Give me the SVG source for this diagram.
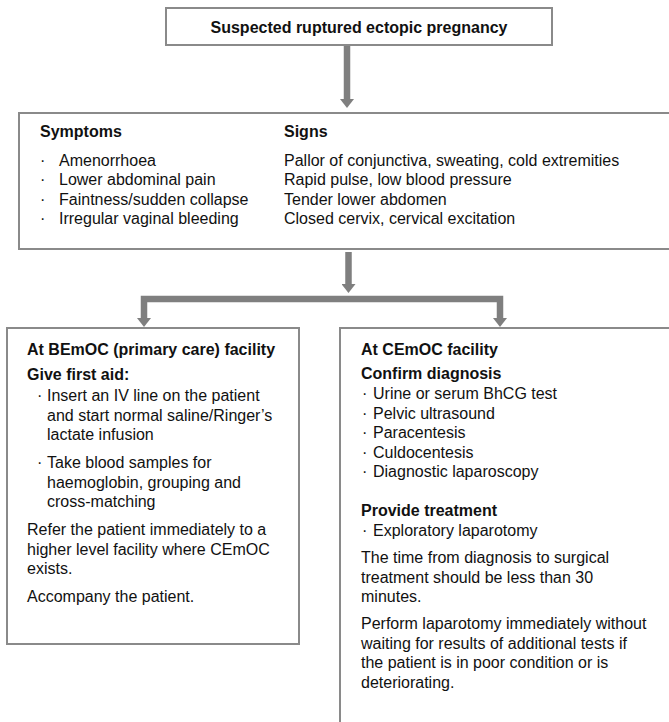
<svg xmlns="http://www.w3.org/2000/svg" width="669" height="722" viewBox="0 0 669 722">
  <style>
    .box { fill: #ffffff; stroke: #8a8a8a; stroke-width: 2; }
    .t { font-family: "Liberation Sans", Arial, sans-serif; font-size: 16px; fill: #111111; }
    .b { font-weight: bold; }
    .conn { fill: none; stroke: #7f7f7f; stroke-width: 6.5; stroke-linejoin: miter; }
  </style>
  <defs>
    <marker id="head" markerUnits="userSpaceOnUse" viewBox="0 -7 9 14" refX="0" refY="0" markerWidth="9" markerHeight="14" orient="auto-start-reverse">
      <path d="M0,-7 L9,0 L0,7 Z" fill="#7f7f7f"/>
    </marker>
  </defs>

  <rect width="669" height="722" fill="#ffffff"/>

  <!-- connectors -->
  <g id="connectors">
    <path class="conn" d="M347,46 V99" marker-end="url(#head)"/>
    <path class="conn" d="M348.5,252 V284" marker-end="url(#head)"/>
    <path class="conn" d="M144,318 V299 H500 V318" marker-start="url(#head)" marker-end="url(#head)"/>
  </g>

  <!-- top node -->
  <g id="suspected">
    <rect class="box" x="166" y="8" width="386" height="37"/>
    <text class="t b" x="359" y="33" text-anchor="middle">Suspected ruptured ectopic pregnancy</text>
  </g>

  <!-- symptoms and signs -->
  <g id="symptoms-signs">
    <rect class="box" x="19" y="113" width="660" height="136"/>
    <text class="t b" x="40" y="137">Symptoms</text>
    <text class="t b" x="284" y="137">Signs</text>
    <text class="t" x="40" y="166">·</text>
    <text class="t" x="40" y="185.3">·</text>
    <text class="t" x="40" y="204.6">·</text>
    <text class="t" x="40" y="224">·</text>
    <text class="t" x="59" y="166">Amenorrhoea</text>
    <text class="t" x="59" y="185.3">Lower abdominal pain</text>
    <text class="t" x="59" y="204.6">Faintness/sudden collapse</text>
    <text class="t" x="59" y="224">Irregular vaginal bleeding</text>
    <text class="t" x="284" y="166">Pallor of conjunctiva, sweating, cold extremities</text>
    <text class="t" x="284" y="185.3">Rapid pulse, low blood pressure</text>
    <text class="t" x="284" y="204.6">Tender lower abdomen</text>
    <text class="t" x="284" y="224">Closed cervix, cervical excitation</text>
  </g>

  <!-- basic emergency obstetric care -->
  <g id="bemoc">
    <rect class="box" x="7" y="328" width="292" height="316"/>
    <text class="t b" x="27" y="355">At BEmOC (primary care) facility</text>
    <text class="t b" x="27" y="380">Give first aid:</text>
    <text class="t" x="37" y="401">·</text>
    <text class="t" x="47" y="401">Insert an IV line on the patient</text>
    <text class="t" x="47" y="420.5">and start normal saline/Ringer’s</text>
    <text class="t" x="47" y="440">lactate infusion</text>
    <text class="t" x="37" y="468">·</text>
    <text class="t" x="47" y="468">Take blood samples for</text>
    <text class="t" x="47" y="487.5">haemoglobin, grouping and</text>
    <text class="t" x="47" y="507">cross-matching</text>
    <text class="t" x="27" y="535">Refer the patient immediately to a</text>
    <text class="t" x="27" y="554.5">higher level facility where CEmOC</text>
    <text class="t" x="27" y="574">exists.</text>
    <text class="t" x="27" y="602">Accompany the patient.</text>
  </g>

  <!-- comprehensive emergency obstetric care -->
  <g id="cemoc">
    <rect class="box" x="340" y="328" width="340" height="410"/>
    <text class="t b" x="361" y="355">At CEmOC facility</text>
    <text class="t b" x="361" y="379">Confirm diagnosis</text>
    <text class="t" x="362" y="399">·</text>
    <text class="t" x="373" y="399">Urine or serum BhCG test</text>
    <text class="t" x="362" y="418.5">·</text>
    <text class="t" x="373" y="418.5">Pelvic ultrasound</text>
    <text class="t" x="362" y="438">·</text>
    <text class="t" x="373" y="438">Paracentesis</text>
    <text class="t" x="362" y="457.5">·</text>
    <text class="t" x="373" y="457.5">Culdocentesis</text>
    <text class="t" x="362" y="477">·</text>
    <text class="t" x="373" y="477">Diagnostic laparoscopy</text>
    <text class="t b" x="361" y="516">Provide treatment</text>
    <text class="t" x="362" y="536">·</text>
    <text class="t" x="373" y="536">Exploratory laparotomy</text>
    <text class="t" x="361" y="563">The time from diagnosis to surgical</text>
    <text class="t" x="361" y="582.5">treatment should be less than 30</text>
    <text class="t" x="361" y="602">minutes.</text>
    <text class="t" x="361" y="629">Perform laparotomy immediately without</text>
    <text class="t" x="361" y="648.5">waiting for results of additional tests if</text>
    <text class="t" x="361" y="668">the patient is in poor condition or is</text>
    <text class="t" x="361" y="687.5">deteriorating.</text>
  </g>
</svg>
